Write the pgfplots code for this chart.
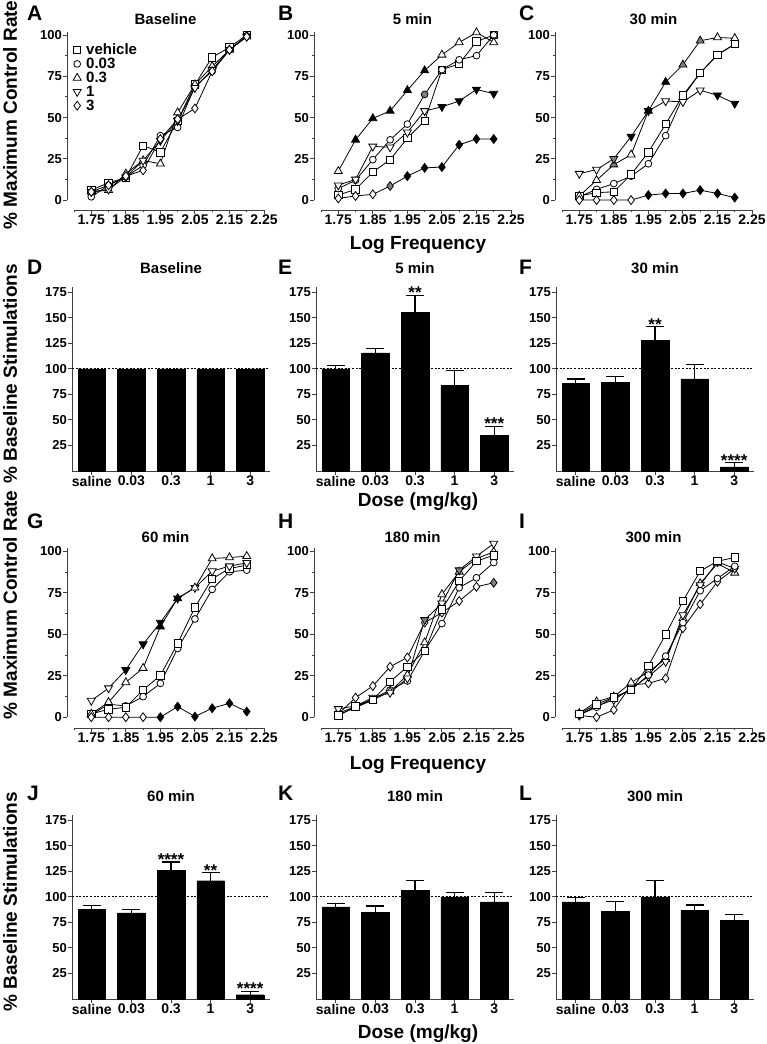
\documentclass[border=0pt]{standalone}
\usepackage{fontspec}
\setmainfont{Liberation Sans}
\usepackage{pgfplots}
\pgfplotsset{compat=1.18}
\newcommand{\fs}[1]{\fontsize{#1}{#1}\selectfont\bfseries}
\tikzset{stars/.style={font=\fs{17}, anchor=south, inner sep=0pt, yshift=-3.5pt},
  letter/.style={font=\fs{21}, anchor=west, inner sep=0pt},
  ylab/.style={font=\fs{19}, rotate=90, inner sep=0pt},
  xlab/.style={font=\fs{19}, inner sep=0pt}}
\pgfplotsset{
  base/.style={scale only axis, clip=false,
    axis x line*=bottom, axis y line*=left,
    x axis line style={-}, y axis line style={-},
    xtick align=outside, ytick align=outside,
    major tick length=4pt, minor tick length=2.5pt,
    tick style={black!75, line width=0.9pt},
    xticklabel style={font=\fs{14}, inner sep=1pt},
    yticklabel style={font=\fs{13}, inner sep=1pt},
    title style={font=\fs{15}, anchor=center, at={(0.5,1)}, inner sep=0pt}},
  lineax/.style={base, width=197pt,
    xmin=1.6797, xmax=2.25, ymax=104,
    xtick={1.75,1.85,1.95,2.05,2.15,2.25},
    xticklabels={1.75,1.85,1.95,2.05,2.15,2.25},
    minor xtick={1.70,1.80,1.90,2.00,2.10,2.20},
    ytick={0,25,50,75,100}, yticklabels={0,25,50,75,100},
    minor ytick={12.5,37.5,62.5,87.5},
    axis line style={draw=none}},
  rowone/.style={lineax, ymin=-6, height=181.6pt, title style={yshift=3.4pt},
    execute at end axis={
      \draw[black!75, line width=0.9pt] (axis cs:1.70,-6) -- (axis cs:2.25,-6);
      \draw[black!75, line width=0.9pt] (axis cs:1.6797,0) -- (axis cs:1.6797,102);}},
  rowthree/.style={lineax, ymin=-6.5, height=183.4pt, title style={yshift=1.6pt},
    execute at end axis={
      \draw[black!75, line width=0.9pt] (axis cs:1.70,-6.5) -- (axis cs:2.25,-6.5);
      \draw[black!75, line width=0.9pt] (axis cs:1.6797,0) -- (axis cs:1.6797,102);}},
  barax/.style={base, width=198pt, height=184pt, xmin=-0.5, xmax=4.5, ymin=0, ymax=180,
    xtick={0,1,2,3,4}, xticklabels={saline,0.03,0.3,1,3},
    ytick={25,50,75,100,125,150,175}, yticklabels={25,50,75,100,125,150,175},
    axis line style={black!75, line width=0.9pt}, title style={yshift=12.5pt}},
  ln/.style={black, line width=0.8pt},
  msq/.style={ln, mark=square*, mark size=3.7pt},
  mci/.style={ln, mark=*, mark size=3.4pt},
  mtu/.style={ln, mark=triangle*, mark size=4.6pt},
  mtd/.style={ln, mark=triangle*, mark size=4.6pt},
  mdi/.style={ln, mark=diamond*, mark size=4.4pt},
  wm/.style={mark options={solid, fill=white, line width=0.8pt}},
  wmd/.style={mark options={solid, fill=white, line width=0.8pt, rotate=180}},
  cls/.style={scatter, point meta=explicit symbolic,
    scatter/classes={w={fill=white}, g={fill=black!50}, b={fill=black}},
    mark options={solid, line width=0.8pt}},
  clsd/.style={cls, mark options={solid, line width=0.8pt, rotate=180}},
  bars/.style={ybar, bar width=27.5pt, fill=black, draw=black,
    error bars/y dir=plus, error bars/y explicit,
    error bars/error bar style={black, line width=1.1pt},
    error bars/error mark options={rotate=90, mark size=9pt, line width=1.1pt, black}},
  dash100/.style={black, line width=0.8pt, dash pattern=on 2pt off 1.6pt},
}
\begin{document}
\begin{tikzpicture}
\useasboundingbox (0,0) rectangle (766pt,1044pt);

% ---------------- A ----------------
\begin{axis}[rowone, at={(67pt,834pt)}, anchor=south west, title={Baseline},
  legend style={at={(rel axis cs:0,1)}, anchor=north west, xshift=6pt, yshift=-14pt,
    draw=none, fill=none, font=\fs{15}, inner sep=0pt, row sep=0pt, column sep=4pt,
    nodes={inner sep=1pt}},
  legend cell align=left,
  legend image code/.code={\draw[#1] plot coordinates {(0pt,0pt)};}]
\addplot[msq, wm] table[row sep=\\] {x y\\ 1.75 6\\ 1.80 10.5\\ 1.85 13.5\\ 1.90 33\\ 1.95 29\\ 2.00 48\\ 2.05 70\\ 2.10 86.5\\ 2.15 92.5\\ 2.20 100\\};
\addlegendentry{vehicle}
\addplot[mci, wm] table[row sep=\\] {x y\\ 1.75 2\\ 1.80 9\\ 1.85 14\\ 1.90 21\\ 1.95 39\\ 2.00 44\\ 2.05 69\\ 2.10 78\\ 2.15 91\\ 2.20 99.5\\};
\addlegendentry{0.03}
\addplot[mtu, wm] table[row sep=\\] {x y\\ 1.75 5\\ 1.80 6\\ 1.85 16\\ 1.90 24\\ 1.95 22\\ 2.00 53\\ 2.05 70\\ 2.10 81\\ 2.15 91\\ 2.20 99\\};
\addlegendentry{0.3}
\addplot[mtd, wmd] table[row sep=\\] {x y\\ 1.75 5\\ 1.80 6.5\\ 1.85 14\\ 1.90 24\\ 1.95 36\\ 2.00 48\\ 2.05 68\\ 2.10 79\\ 2.15 91\\ 2.20 99\\};
\addlegendentry{1}
\addplot[mdi, wm] table[row sep=\\] {x y\\ 1.75 5\\ 1.80 9\\ 1.85 14.5\\ 1.90 18\\ 1.95 37\\ 2.00 49\\ 2.05 55.5\\ 2.10 78\\ 2.15 91\\ 2.20 99\\};
\addlegendentry{3}
\end{axis}

% ---------------- B ----------------
\begin{axis}[rowone, at={(314pt,834pt)}, anchor=south west, title={5 min}]
\addplot[msq, cls] table[meta=c, row sep=\\] {x y c\\ 1.75 3 w\\ 1.80 6.5 w\\ 1.85 17 w\\ 1.90 24.5 w\\ 1.95 37.5 w\\ 2.00 48 w\\ 2.05 79 w\\ 2.10 82.5 w\\ 2.15 96 w\\ 2.20 100 w\\};
\addplot[mci, cls] table[meta=c, row sep=\\] {x y c\\ 1.75 7 w\\ 1.80 12 w\\ 1.85 24.5 w\\ 1.90 36.5 w\\ 1.95 46 w\\ 2.00 64 g\\ 2.05 79 w\\ 2.10 85 w\\ 2.15 87.5 w\\ 2.20 100 w\\};
\addplot[mtu, cls] table[meta=c, row sep=\\] {x y c\\ 1.75 17.5 w\\ 1.80 36.5 b\\ 1.85 49.5 b\\ 1.90 54 b\\ 1.95 66.5 b\\ 2.00 78.5 b\\ 2.05 88 w\\ 2.10 95.5 w\\ 2.15 101.5 w\\ 2.20 95.5 w\\};
\addplot[mtd, clsd] table[meta=c, row sep=\\] {x y c\\ 1.75 9 w\\ 1.80 12.5 w\\ 1.85 32.5 w\\ 1.90 32 w\\ 1.95 41 w\\ 2.00 54 w\\ 2.05 56.5 b\\ 2.10 60 b\\ 2.15 67 b\\ 2.20 64.5 b\\};
\addplot[mdi, cls] table[meta=c, row sep=\\] {x y c\\ 1.75 1 w\\ 1.80 2.5 w\\ 1.85 3.5 w\\ 1.90 8.5 g\\ 1.95 14.5 b\\ 2.00 19.5 b\\ 2.05 20 b\\ 2.10 33.5 b\\ 2.15 37 b\\ 2.20 37 b\\};
\end{axis}

% ---------------- C ----------------
\begin{axis}[rowone, at={(555pt,834pt)}, anchor=south west, title={30 min}]
\addplot[mci, cls] table[meta=c, row sep=\\] {x y c\\ 1.75 2 w\\ 1.80 6.5 w\\ 1.85 10 w\\ 1.90 14.5 w\\ 1.95 22 w\\ 2.00 39 w\\ 2.05 62.5 w\\ 2.10 77 w\\ 2.15 88 w\\ 2.20 94.5 w\\};
\addplot[msq, cls] table[meta=c, row sep=\\] {x y c\\ 1.75 2.5 w\\ 1.80 4.5 w\\ 1.85 5 w\\ 1.90 15.5 w\\ 1.95 29 w\\ 2.00 46 w\\ 2.05 63.5 w\\ 2.10 77 w\\ 2.15 88 w\\ 2.20 94.5 w\\};
\addplot[mtu, cls] table[meta=c, row sep=\\] {x y c\\ 1.75 2.5 w\\ 1.80 12 w\\ 1.85 21.5 g\\ 1.90 27.5 w\\ 1.95 54 b\\ 2.00 71.5 b\\ 2.05 82 g\\ 2.10 96.5 g\\ 2.15 98.5 w\\ 2.20 98 w\\};
\addplot[mtd, clsd] table[meta=c, row sep=\\] {x y c\\ 1.75 16 w\\ 1.80 18.5 w\\ 1.85 25 g\\ 1.90 38.5 b\\ 1.95 54 b\\ 2.00 60 w\\ 2.05 59.5 w\\ 2.10 66.5 w\\ 2.15 63.5 b\\ 2.20 58.5 b\\};
\addplot[mdi, cls] table[meta=c, row sep=\\] {x y c\\ 1.75 0 w\\ 1.80 0 w\\ 1.85 0 w\\ 1.90 0 w\\ 1.95 3 b\\ 2.00 4 b\\ 2.05 4 b\\ 2.10 6 b\\ 2.15 4 b\\ 2.20 1.5 b\\};
\end{axis}

% ---------------- D ----------------
\begin{axis}[barax, at={(72pt,573pt)}, anchor=south west, title={Baseline}]
\addplot[dash100] coordinates {(-0.5,100) (4.5,100)};
\addplot[ybar, bar width=27.5pt, fill=black, draw=black] table[row sep=\\] {x y\\ 0 100\\ 1 100\\ 2 100\\ 3 100\\ 4 100\\};
\end{axis}

% ---------------- E ----------------
\begin{axis}[barax, at={(316pt,573pt)}, anchor=south west, title={5 min}]
\addplot[dash100] coordinates {(-0.5,100) (4.5,100)};
\addplot[bars] table[x=x, y=y, y error=e, row sep=\\] {x y e\\ 0 100 3\\ 1 115.5 4.5\\ 2 155 17\\ 3 84 14\\ 4 35 8.5\\};
\node[stars] at (axis cs:2,172) {**};
\node[stars] at (axis cs:4,43.5) {***};
\end{axis}

% ---------------- F ----------------
\begin{axis}[barax, at={(556pt,573pt)}, anchor=south west, title={30 min}]
\addplot[dash100] coordinates {(-0.5,100) (4.5,100)};
\addplot[bars] table[x=x, y=y, y error=e, row sep=\\] {x y e\\ 0 86 4\\ 1 87 5\\ 2 128 13\\ 3 90 14.5\\ 4 4 4\\};
\node[stars] at (axis cs:2,141) {**};
\node[stars] at (axis cs:4,8) {****};
\end{axis}

% ---------------- G ----------------
\begin{axis}[rowthree, at={(67pt,316pt)}, anchor=south west, title={60 min}]
\addplot[mci, cls] table[meta=c, row sep=\\] {x y c\\ 1.75 1.4 w\\ 1.80 7.8 w\\ 1.85 6.8 w\\ 1.90 12.4 w\\ 1.95 20.4 w\\ 2.00 41.4 w\\ 2.05 59.2 w\\ 2.10 77 w\\ 2.15 87.6 w\\ 2.20 88.6 w\\};
\addplot[msq, cls] table[meta=c, row sep=\\] {x y c\\ 1.75 2 w\\ 1.80 4.8 w\\ 1.85 6 w\\ 1.90 16.4 w\\ 1.95 25.2 w\\ 2.00 44.4 w\\ 2.05 66.2 w\\ 2.10 83.4 w\\ 2.15 89.6 w\\ 2.20 91.6 w\\};
\addplot[mtd, clsd] table[meta=c, row sep=\\] {x y c\\ 1.75 10 w\\ 1.80 17.5 w\\ 1.85 28.5 b\\ 1.90 44 b\\ 1.95 57 b\\ 2.00 71.6 b\\ 2.05 78 w\\ 2.10 88 w\\ 2.15 91 w\\ 2.20 93 w\\};
\addplot[mtu, cls] table[meta=c, row sep=\\] {x y c\\ 1.75 2 w\\ 1.80 9 w\\ 1.85 21 w\\ 1.90 29.6 w\\ 1.95 54.6 b\\ 2.00 71.6 b\\ 2.05 78 w\\ 2.10 95.6 w\\ 2.15 96.2 w\\ 2.20 97 w\\};
\addplot[mdi, cls] table[meta=c, row sep=\\] {x y c\\ 1.75 0 w\\ 1.80 0 w\\ 1.85 0 w\\ 1.90 0 w\\ 1.95 0 b\\ 2.00 6.4 b\\ 2.05 0.4 b\\ 2.10 5.4 b\\ 2.15 8.4 b\\ 2.20 3.4 b\\};
\end{axis}

% ---------------- H ----------------
\begin{axis}[rowthree, at={(314pt,316pt)}, anchor=south west, title={180 min}]
\addplot[mdi, cls] table[meta=c, row sep=\\] {x y c\\ 1.75 2 w\\ 1.80 11.8 w\\ 1.85 18.8 w\\ 1.90 30.4 w\\ 1.95 36 w\\ 2.00 57 w\\ 2.05 63 w\\ 2.10 70 w\\ 2.15 78.6 w\\ 2.20 81 g\\};
\addplot[mci, cls] table[meta=c, row sep=\\] {x y c\\ 1.75 2.4 w\\ 1.80 6.4 w\\ 1.85 11 w\\ 1.90 16.4 w\\ 1.95 21.8 w\\ 2.00 40 w\\ 2.05 56.4 w\\ 2.10 78 w\\ 2.15 84 w\\ 2.20 93.2 w\\};
\addplot[mtu, cls] table[meta=c, row sep=\\] {x y c\\ 1.75 1.4 w\\ 1.80 5.8 w\\ 1.85 10.4 w\\ 1.90 15.4 w\\ 1.95 25.4 w\\ 2.00 45 w\\ 2.05 74 w\\ 2.10 87.6 w\\ 2.15 95.6 w\\ 2.20 99.6 w\\};
\addplot[mtd, clsd] table[meta=c, row sep=\\] {x y c\\ 1.75 5 w\\ 1.80 6.8 w\\ 1.85 11.8 w\\ 1.90 14.8 w\\ 1.95 23.4 w\\ 2.00 58.6 g\\ 2.05 68.6 w\\ 2.10 88.6 g\\ 2.15 97 w\\ 2.20 104.6 w\\};
\addplot[msq, cls] table[meta=c, row sep=\\] {x y c\\ 1.75 1 w\\ 1.80 6.4 w\\ 1.85 10.4 w\\ 1.90 21.4 w\\ 1.95 30.4 w\\ 2.00 39.8 w\\ 2.05 65 w\\ 2.10 82 w\\ 2.15 94 w\\ 2.20 97.6 w\\};
\end{axis}

% ---------------- I ----------------
\begin{axis}[rowthree, at={(555pt,316pt)}, anchor=south west, title={300 min}]
\addplot[mdi, wm] table[row sep=\\] {x y\\ 1.75 1\\ 1.80 0\\ 1.85 4.4\\ 1.90 19.4\\ 1.95 20.4\\ 2.00 23.4\\ 2.05 53.6\\ 2.10 68\\ 2.15 81.6\\ 2.20 89.6\\};
\addplot[mtu, wm] table[row sep=\\] {x y\\ 1.75 2.4\\ 1.80 9.4\\ 1.85 12.4\\ 1.90 20.8\\ 1.95 27.4\\ 2.00 35\\ 2.05 59.6\\ 2.10 80.6\\ 2.15 92.6\\ 2.20 87\\};
\addplot[mtd, wmd] table[row sep=\\] {x y\\ 1.75 1.4\\ 1.80 6.8\\ 1.85 10.4\\ 1.90 17.4\\ 1.95 24.4\\ 2.00 33.4\\ 2.05 61.6\\ 2.10 79.6\\ 2.15 93.6\\ 2.20 89.6\\};
\addplot[mci, wm] table[row sep=\\] {x y\\ 1.75 1.4\\ 1.80 6\\ 1.85 12\\ 1.90 16.4\\ 1.95 25.4\\ 2.00 36.8\\ 2.05 57\\ 2.10 76.2\\ 2.15 83.6\\ 2.20 91\\};
\addplot[msq, wm] table[row sep=\\] {x y\\ 1.75 2\\ 1.80 7.8\\ 1.85 12\\ 1.90 16.4\\ 1.95 31\\ 2.00 49.8\\ 2.05 70\\ 2.10 88\\ 2.15 94\\ 2.20 96.2\\};
\end{axis}

% ---------------- J ----------------
\begin{axis}[barax, at={(72pt,45pt)}, anchor=south west, title={60 min}]
\addplot[dash100] coordinates {(-0.5,100) (4.5,100)};
\addplot[bars] table[x=x, y=y, y error=e, row sep=\\] {x y e\\ 0 87.5 4\\ 1 84.3 3.3\\ 2 126 8\\ 3 115.7 7.8\\ 4 4.2 3\\};
\node[stars] at (axis cs:2,134) {****};
\node[stars] at (axis cs:3,123.5) {**};
\node[stars] at (axis cs:4,7.2) {****};
\end{axis}

% ---------------- K ----------------
\begin{axis}[barax, at={(316pt,45pt)}, anchor=south west, title={180 min}]
\addplot[dash100] coordinates {(-0.5,100) (4.5,100)};
\addplot[bars] table[x=x, y=y, y error=e, row sep=\\] {x y e\\ 0 90 3.5\\ 1 85 6\\ 2 106.5 9.5\\ 3 100 4\\ 4 95 9\\};
\end{axis}

% ---------------- L ----------------
\begin{axis}[barax, at={(556pt,45pt)}, anchor=south west, title={300 min}]
\addplot[dash100] coordinates {(-0.5,100) (4.5,100)};
\addplot[bars] table[x=x, y=y, y error=e, row sep=\\] {x y e\\ 0 95 4\\ 1 86 9\\ 2 100 16\\ 3 87 5\\ 4 77 6\\};
\end{axis}

% ---------------- labels ----------------
\node[letter] at (27pt,1030.5pt) {A};
\node[letter] at (278pt,1030.5pt) {B};
\node[letter] at (519pt,1030.5pt) {C};
\node[letter] at (27pt,776.5pt) {D};
\node[letter] at (278pt,776.5pt) {E};
\node[letter] at (519pt,776.5pt) {F};
\node[letter] at (27pt,523pt) {G};
\node[letter] at (278pt,523pt) {H};
\node[letter] at (519pt,523pt) {I};
\node[letter] at (27pt,251pt) {J};
\node[letter] at (278pt,251pt) {K};
\node[letter] at (519pt,251pt) {L};

\node[ylab] at (10pt,929pt) {\% Maximum Control Rate};
\node[ylab] at (10pt,670pt) {\% Baseline Stimulations};
\node[ylab] at (10pt,439pt) {\% Maximum Control Rate};
\node[ylab] at (10pt,142pt) {\% Baseline Stimulations};

\node[xlab] at (418pt,799pt) {Log Frequency};
\node[xlab] at (418pt,542pt) {Dose (mg/kg)};
\node[xlab] at (418pt,279pt) {Log Frequency};
\node[xlab] at (418pt,10pt) {Dose (mg/kg)};
\end{tikzpicture}
\end{document}
